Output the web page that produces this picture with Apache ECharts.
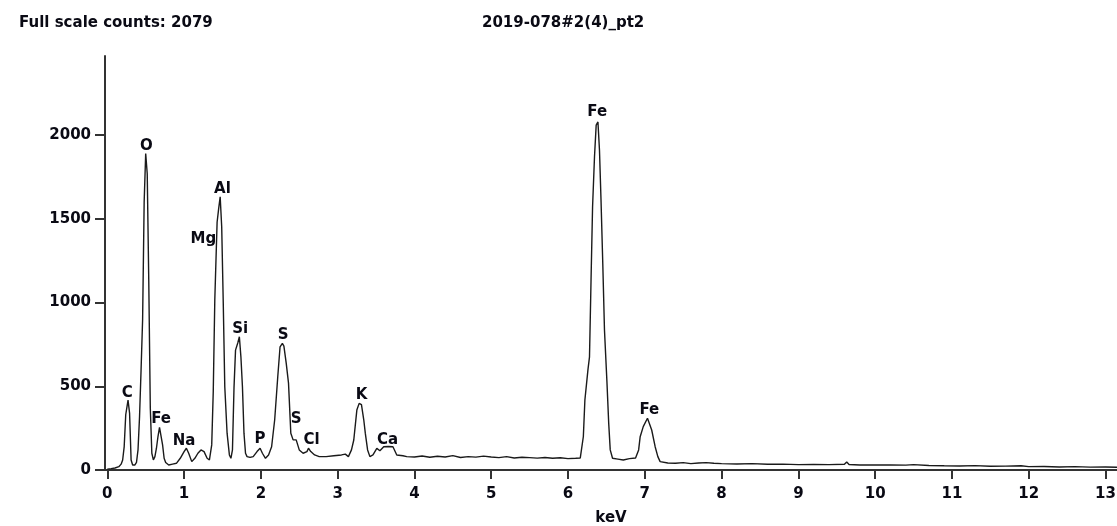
<!DOCTYPE html>
<html>
<head>
<meta charset="utf-8">
<script src="https://cdn.jsdelivr.net/npm/echarts@6/dist/echarts.min.js"></script>
<style>
html,body{margin:0;padding:0;background:#fff;}
#chart{width:1117px;height:526px;}
</style>
</head>
<body>
<div id="chart"></div>
<script>
// ---- data ----
const titleLeft = 'Full scale counts: 2079';
const titleCenter = '2019-078#2(4)_pt2';
const xAxisName = 'keV';
const xTicks = [0,1,2,3,4,5,6,7,8,9,10,11,12,13];
const yTicks = [0,500,1000,1500,2000];

const energy = [
  0.00,0.05,0.10,0.15,0.18,0.20,0.22,0.24,0.26,0.27,0.28,0.29,0.30,0.31,0.33,0.36,0.38,
  0.40,0.42,0.44,0.46,0.48,0.50,0.51,0.52,0.54,0.56,0.58,0.60,0.62,0.64,0.66,0.68,0.70,
  0.72,0.74,0.76,0.80,0.85,0.90,0.95,1.00,1.03,1.06,1.10,1.14,1.18,1.22,1.26,1.30,1.33,
  1.36,1.38,1.40,1.43,1.45,1.47,1.49,1.51,1.53,1.56,1.59,1.61,1.63,1.65,1.67,1.70,1.72,
  1.74,1.76,1.78,1.80,1.82,1.86,1.90,1.95,1.99,2.02,2.06,2.10,2.14,2.18,2.22,2.25,2.28,
  2.30,2.33,2.36,2.39,2.42,2.46,2.50,2.55,2.60,2.62,2.65,2.70,2.76,2.85,2.95,3.05,3.10,
  3.14,3.18,3.21,3.25,3.28,3.31,3.34,3.36,3.39,3.42,3.46,3.51,3.55,3.60,3.66,3.72,3.77,
  3.85,3.90,4.0,4.1,4.2,4.3,4.4,4.5,4.6,4.7,4.8,4.9,5.0,5.1,5.2,5.3,5.4,5.5,5.6,5.7,5.8,
  5.9,6.0,6.1,6.16,6.20,6.22,6.26,6.28,6.30,6.32,6.345,6.367,6.39,6.41,6.43,6.454,6.475,
  6.507,6.53,6.55,6.58,6.65,6.72,6.80,6.88,6.92,6.94,6.98,7.035,7.06,7.09,7.135,7.17,7.20,
  7.3,7.4,7.5,7.6,7.7,7.8,7.9,8.0,8.2,8.4,8.6,8.8,9.0,9.2,9.4,9.6,9.63,9.66,9.8,10.0,10.2,
  10.4,10.5,10.7,10.9,11.1,11.3,11.5,11.7,11.9,12.0,12.2,12.4,12.6,12.8,13.0,13.15
];
const counts = [
  5,8,12,20,35,60,140,330,340,418,418,340,200,60,30,30,45,
  120,320,600,900,1600,1890,1890,1770,1130,370,100,60,80,130,200,255,250,
  150,70,45,30,35,40,70,110,130,100,50,70,100,120,110,70,60,
  150,470,1015,1480,1560,1632,1452,1000,497,220,90,70,120,489,716,760,796,
  676,497,220,100,80,75,80,110,130,100,70,90,139,300,557,736,756,
  740,638,519,220,180,180,120,100,110,130,110,90,80,80,85,90,95,
  80,120,179,358,398,390,300,220,120,80,90,129,115,139,140,139,90,
  85,80,78,84,76,82,78,86,75,80,77,83,78,74,80,72,76,74,71,75,70,
  73,68,70,72,200,418,600,676,1134,1572,1870,2060,2079,1910,1612,1214,836,
  527,280,120,70,65,60,68,72,120,199,259,309,300,239,139,80,50,
  42,40,44,38,42,44,40,38,36,38,34,35,32,33,32,34,48,33,30,30,30,
  29,32,27,25,24,26,22,23,25,20,21,18,20,17,18,16
];

const peakNames  = ['C','O','Fe','Na','Mg','Al','Si','P','S','S','Cl','K','Ca','Fe','Fe'];
const peakKeV    = [0.26,0.51,0.70,1.00,1.25,1.50,1.73,1.99,2.29,2.46,2.66,3.31,3.65,6.38,7.06];
const peakLabelY = [462,1932,302,172,1378,1676,840,183,804,302,178,446,178,2138,356];

// ---- chart ----
const FONT = 'DejaVu Sans';
const TXT = '#0a0a14';
const FS = 15;
const chart = echarts.init(document.getElementById('chart'), null, {renderer:'canvas'});
const lineData = energy.map((e,i)=>[e,counts[i]]);
const labelData = peakNames.map((n,i)=>({name:n, value:[peakKeV[i], peakLabelY[i]]}));

chart.setOption({
  animation:false,
  backgroundColor:'#fff',
  title:[
    {text:titleLeft, left:14, top:11, textStyle:{fontFamily:FONT,fontWeight:'bold',fontSize:FS,color:TXT}},
    {text:titleCenter, left:477, top:11, textStyle:{fontFamily:FONT,fontWeight:'bold',fontSize:FS,color:TXT}}
  ],
  grid:{left:105, right:0, top:56, bottom:56, containLabel:false, outerBoundsMode:'none'},
  xAxis:{
    type:'value', min:-0.03, max:13.15,
    name:xAxisName, nameLocation:'middle', nameGap:41,
    nameTextStyle:{fontFamily:FONT,fontWeight:'bold',fontSize:FS,color:TXT},
    axisLine:{onZero:false, lineStyle:{color:'#333',width:2}},
    axisTick:{show:true, customValues:xTicks, length:9, lineStyle:{color:'#333',width:2}},
    axisLabel:{customValues:xTicks, margin:17, fontFamily:FONT,fontWeight:'bold',fontSize:FS,color:TXT,
      formatter:v=>String(v)},
    splitLine:{show:false}
  },
  yAxis:{
    type:'value', min:0, max:2473,
    axisLine:{show:true, onZero:false, lineStyle:{color:'#333',width:2}},
    axisTick:{show:true, customValues:yTicks, length:10, lineStyle:{color:'#333',width:2}},
    axisLabel:{customValues:yTicks, margin:14, fontFamily:FONT,fontWeight:'bold',fontSize:FS,color:TXT,
      formatter:v=>String(v)},
    splitLine:{show:false}
  },
  series:[
    {
      type:'line', data:lineData, showSymbol:false, symbol:'none',
      lineStyle:{color:'#1a1a1a', width:1.4}, silent:true, z:2
    },
    {
      type:'scatter', data:labelData, symbolSize:0, silent:true, z:3,
      itemStyle:{opacity:1, color:'rgba(0,0,0,0)'},
      label:{show:true, position:'inside', formatter:'{b}', opacity:1,
        fontFamily:FONT, fontWeight:'bold', fontSize:FS, color:TXT}
    }
  ]
});
</script>
</body>
</html>
